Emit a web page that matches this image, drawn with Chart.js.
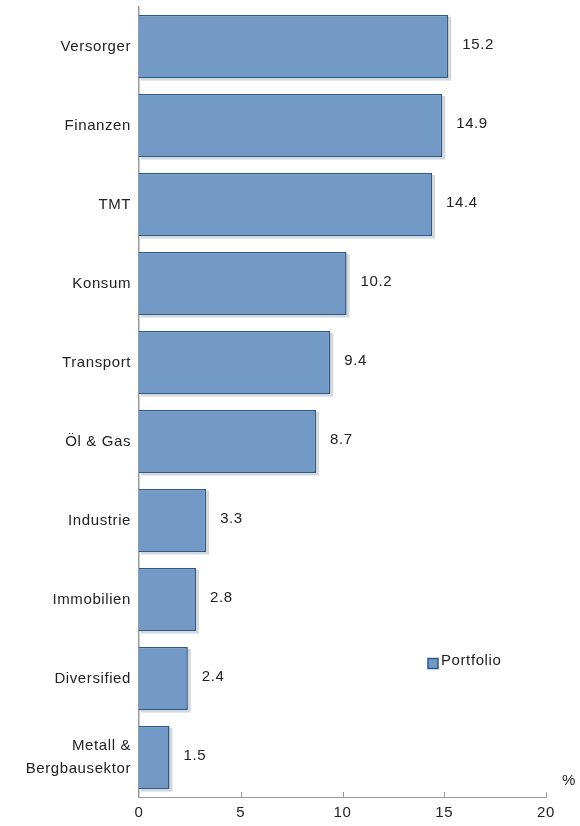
<!DOCTYPE html>
<html>
<head>
<meta charset="utf-8">
<script src="https://cdn.jsdelivr.net/npm/chart.js@4.4.0/dist/chart.umd.min.js"></script>
<style>
  html, body { margin: 0; padding: 0; background: #fff; }
  #wrap { width: 580px; height: 826px; }
</style>
</head>
<body>
<div id="wrap"><canvas id="sectorChart"></canvas></div>
<script>
// sector weights in %
const categories = ["Versorger", "Finanzen", "TMT", "Konsum", "Transport", "Öl & Gas",
  "Industrie", "Immobilien", "Diversified", ["Metall &", "Bergbausektor"]];
const portfolio = [15.2, 14.9, 14.4, 10.2, 9.4, 8.7, 3.3, 2.8, 2.4, 1.5];
const xTicks = [0, 5, 10, 15, 20];

const fontFamily = "'Liberation Sans', Arial, sans-serif";
const fontSize = 15;
const textColor = "#222";
const spacing = "0.6px"; // the original text is a bit stretched

const extras = {
  id: "extras",
  beforeDraw(chart) {
    chart.ctx.letterSpacing = spacing;
  },
  beforeDatasetsDraw(chart) {
    // soft shadow right/below each bar
    const ctx = chart.ctx;
    ctx.save();
    ctx.fillStyle = "rgba(60,80,110,0.22)";
    chart.getDatasetMeta(0).data.forEach(function (bar) {
      const h = bar.height;
      ctx.fillRect(bar.base + 2, bar.y - h / 2 + 2, bar.x - bar.base + 1, h + 0.5);
    });
    ctx.restore();
  },
  afterDraw(chart) {
    const ctx = chart.ctx;
    const x = chart.scales.x;
    const y = chart.scales.y;
    const area = chart.chartArea;
    ctx.save();
    ctx.letterSpacing = spacing;
    // tick marks pointing up into the plot
    ctx.strokeStyle = "#999";
    ctx.lineWidth = 1;
    xTicks.forEach(function (t) {
      if (t === 0) return;
      const px = Math.round(x.getPixelForValue(t)) + 0.5;
      ctx.beginPath();
      ctx.moveTo(px, area.bottom);
      ctx.lineTo(px, area.bottom - 5);
      ctx.stroke();
    });

    ctx.font = fontSize + "px " + fontFamily;
    ctx.fillStyle = textColor;
    ctx.textBaseline = "middle";
    ctx.textAlign = "left";
    chart.getDatasetMeta(0).data.forEach(function (bar, i) {
      ctx.fillText(portfolio[i].toFixed(1), bar.x + 14, bar.y - 2);
    });

    // unit
    ctx.fillText("%", x.getPixelForValue(20) + 16, area.bottom - 16);

    // legend
    const lx = x.getPixelForValue(14.2);
    const ly = y.getPixelForValue(8) - 16;
    ctx.fillStyle = "#7399C6";
    ctx.strokeStyle = "#2A5A8A";
    ctx.lineWidth = 1.5;
    ctx.fillRect(lx, ly - 4, 10, 10);
    ctx.strokeRect(lx, ly - 4, 10, 10);
    ctx.fillStyle = textColor;
    ctx.fillText("Portfolio", lx + 13, ly - 2);
    ctx.restore();
  }
};

const ctx = document.getElementById("sectorChart").getContext("2d");
const sectorChart = new Chart(ctx, {
  type: "bar",
  data: {
    labels: categories,
    datasets: [
      {
        label: "Portfolio",
        data: portfolio,
        backgroundColor: "#7399C6",
        borderColor: "#2A5A8A",
        borderWidth: 1.5,
        borderSkipped: "start",
        categoryPercentage: 0.8,
        barPercentage: 1.0,
      },
    ],
  },
  options: {
    indexAxis: "y",
    responsive: true,
    maintainAspectRatio: false,
    animation: false,
    layout: { padding: { top: 7, right: 34, left: 0, bottom: 0 } },
    plugins: {
      legend: { display: false },
      tooltip: { enabled: false },
    },
    scales: {
      x: {
        min: 0,
        max: 20,
        afterBuildTicks: (scale) => {
          scale.ticks = xTicks.map((v) => ({ value: v }));
        },
        afterFit: (scale) => {
          scale.height = 29;
          scale.paddingLeft = 0;
          scale.paddingRight = 0;
        },
        grid: { display: false, drawTicks: false },
        border: { display: true, color: "#999", width: 1 },
        ticks: {
          padding: 7,
          color: textColor,
          font: { family: fontFamily, size: fontSize },
        },
      },
      y: {
        afterFit: (scale) => {
          scale.width = 139;
          scale.paddingTop = 0;
          scale.paddingBottom = 0;
        },
        grid: { display: false, drawTicks: false },
        border: { display: true, color: "#999", width: 1.5 },
        ticks: {
          padding: 8,
          color: textColor,
          font: { family: fontFamily, size: fontSize, lineHeight: 1.5 },
        },
      },
    },
  },
  plugins: [extras],
});
</script>
</body>
</html>
